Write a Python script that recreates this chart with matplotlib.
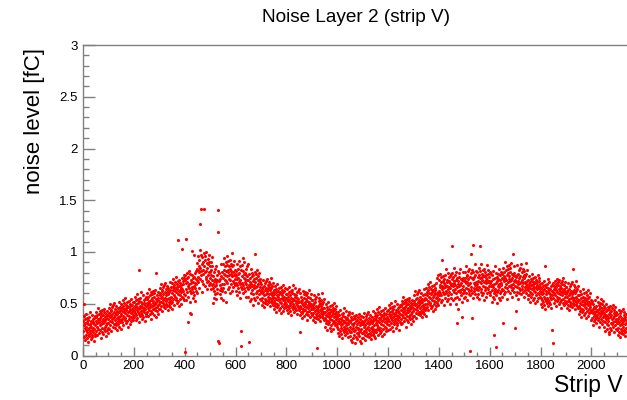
import numpy as np
import matplotlib
matplotlib.use("Agg")
import matplotlib.pyplot as plt
from matplotlib.ticker import MultipleLocator

plt.rcParams["font.family"] = ["Liberation Sans", "DejaVu Sans"]

# Noise per strip, in units of 0.01 fC, one entry per strip number
noise_strips_0000_0299 = [
    24,33,18,29,38,50,27,15,31,35, 20,28,40,25,17,32,23,36,26,13,
    30,34,21,27,37,19,29,24,42,22, 33,16,28,31,20,39,25,18,32,27,
    23,35,14,30,26,36,21,29,38,19,
    37,24,33,42,28,20,39,31,35,46, 26,34,22,40,32,29,43,25,36,17,
    41,30,38,23,33,44,27,35,21,39, 31,42,26,32,45,28,24,37,34,19,
    40,29,36,25,43,31,38,22,35,27,
    31,39,46,26,41,37,33,50,29,43, 38,24,44,35,47,32,40,28,49,36,
    30,42,37,51,27,39,34,45,31,41, 48,29,36,43,25,40,46,33,37,30,
    42,52,35,28,44,32,38,47,34,26,
    50,40,32,46,43,35,54,38,48,29, 42,51,37,45,34,56,41,36,49,44,
    31,46,52,39,33,48,42,28,47,53, 38,43,35,50,45,30,48,41,55,37,
    33,44,49,36,42,52,39,46,34,43,
    43,52,37,48,57,41,46,34,50,54, 39,47,59,44,36,51,42,55,45,32,
    83,53,40,46,56,38,48,43,61,41, 52,35,47,50,39,58,44,37,51,46,
    42,54,33,49,45,55,40,48,57,38,
    55,42,51,60,46,38,57,49,53,64, 44,52,40,58,50,47,61,43,54,35,
    59,48,56,41,51,62,45,53,39,57, 49,60,44,50,63,46,80,55,52,37,
    58,47,54,43,61,49,56,40,53,45,
]

noise_strips_0300_0599 = [
    50,58,65,45,60,56,52,69,48,62, 57,43,63,54,66,51,59,47,68,55,
    49,61,56,70,46,58,53,64,50,60, 67,48,55,62,44,59,65,52,56,49,
    61,71,54,47,63,51,57,66,53,45,
    70,60,52,66,63,55,74,58,68,49, 62,71,57,65,54,76,61,56,69,64,
    51,66,72,59,53,112,62,48,67,73, 58,63,55,70,65,50,68,61,75,57,
    103,64,69,56,62,72,59,75,54,78,
    3,78,58,73,113,64,70,54,75,80, 61,71,32,67,57,76,65,82,69,52,
    41,79,62,70,40,60,73,66,101,64, 78,56,71,75,61,97,67,58,76,70,
    65,80,53,74,69,82,62,73,84,60,
    89,71,83,96,76,65,92,81,86,102, 74,85,127,142,82,78,97,72,88,61,
    95,79,90,69,83,99,142,86,67,92, 81,96,74,82,100,76,71,89,85,64,
    93,78,88,72,97,81,90,68,86,75,
    70,81,90,64,83,78,73,95,68,86, 69,51,77,65,81,62,72,56,84,67,
    59,74,68,86,55,71,64,78,60,73, 82,141,119,14,12,72,80,63,68,59,
    74,88,65,56,77,62,69,81,64,54,
    88,75,65,83,79,69,94,73,86,61, 78,90,72,82,52,96,77,70,87,81,
    64,83,91,74,66,86,78,60,84,92, 73,79,69,88,82,62,86,77,99,72,
    66,81,87,70,78,91,74,83,68,79,
]

noise_strips_0600_0899 = [
    70,82,62,77,88,68,74,58,79,84, 65,75,91,71,61,80,69,86,73,56,
    9,83,66,24,87,64,77,70,94,68, 82,60,75,79,65,90,71,62,80,74,
    69,84,57,78,73,86,66,77,88,64,
    73,57,68,79,13,53,75,66,71,84, 60,69,55,77,67,63,80,59,72,49,
    78,65,74,56,68,81,98,71,54,75, 66,79,60,67,83,62,57,73,69,51,
    77,63,72,59,80,66,74,55,71,61,
    54,62,69,49,64,60,56,73,52,66, 61,47,67,58,70,55,63,51,72,59,
    53,65,60,74,50,62,57,68,54,64, 71,52,59,66,48,63,69,56,60,53,
    65,75,58,51,67,55,61,70,57,49,
    63,53,45,59,56,48,67,51,61,42, 55,64,50,58,47,69,54,49,62,57,
    44,59,65,52,46,61,55,41,60,66, 51,56,48,63,58,43,61,54,68,50,
    46,57,62,49,55,65,52,59,47,56,
    50,59,44,55,64,48,53,41,57,61, 46,54,66,51,43,58,49,62,52,39,
    56,60,47,53,63,45,55,50,68,48, 59,42,54,57,46,65,51,44,58,53,
    49,61,40,56,52,62,47,55,64,45,
    44,52,39,23,48,60,42,53,46,57, 36,51,54,41,45,62,49,43,59,48,
    56,38,52,44,61,50,40,55,47,58, 34,53,42,60,46,49,57,39,51,43,
    63,52,48,56,37,45,59,50,41,54,
]

noise_strips_0900_1199 = [
    39,47,54,34,49,45,41,58,37,51, 46,32,52,43,55,40,48,36,57,44,
    38,7,45,59,35,47,42,53,39,49, 56,37,44,51,33,48,54,41,45,38,
    50,60,43,36,52,40,46,55,42,34,
    46,36,28,42,39,31,50,34,44,25, 38,47,33,41,30,52,37,32,45,40,
    27,42,48,35,29,44,38,24,43,49, 34,39,31,46,41,26,44,37,51,33,
    29,40,45,32,38,48,35,42,30,39,
    28,37,22,33,42,26,31,19,35,39, 24,32,44,29,21,36,27,40,30,17,
    34,38,25,31,41,23,33,28,46,26, 37,20,32,35,24,43,29,22,36,31,
    27,39,18,34,30,40,25,33,42,23,
    32,19,28,37,23,15,34,26,30,41, 13,29,17,35,27,24,38,20,31,12,
    36,25,33,18,28,39,22,30,16,34, 26,37,21,27,40,23,19,32,29,14,
    35,24,31,12,38,26,33,17,30,22,
    22,30,37,17,32,28,24,41,20,34, 29,15,35,26,38,23,31,19,40,27,
    21,33,28,42,18,30,25,36,22,32, 39,20,27,34,16,31,37,24,28,21,
    33,43,26,19,35,23,29,38,25,17,
    41,31,23,37,34,26,45,29,39,20, 33,42,28,36,25,47,32,27,40,35,
    22,37,43,30,24,39,33,19,38,44, 29,34,26,41,36,21,39,32,46,28,
    24,35,40,27,33,43,30,37,25,34,
]

noise_strips_1200_1499 = [
    35,44,29,40,49,33,38,26,42,46, 31,39,51,36,28,43,34,47,37,24,
    41,45,32,38,48,30,40,35,53,33, 44,27,39,42,31,50,36,29,43,38,
    34,46,25,41,37,47,32,40,49,30,
    48,35,44,53,39,31,50,42,46,57, 37,45,33,51,43,40,54,36,47,28,
    52,41,49,34,44,55,38,46,32,50, 42,53,37,43,56,39,35,48,45,30,
    51,40,47,36,54,42,49,33,46,38,
    43,51,58,38,53,49,45,62,41,55, 50,36,56,47,59,44,52,40,61,48,
    42,54,49,63,39,51,46,57,43,53, 60,41,48,55,37,52,58,45,49,42,
    54,64,47,40,56,44,50,59,46,38,
    65,55,47,61,58,50,69,53,63,44, 57,66,52,60,49,71,56,51,64,59,
    46,61,67,54,48,63,57,43,62,68, 53,58,50,65,60,45,63,56,70,52,
    48,59,75,51,57,78,54,61,49,58,
    62,73,55,68,79,60,66,52,71,76, 58,67,92,64,54,72,61,77,65,49,
    70,74,59,66,78,56,68,62,84,60, 73,53,67,71,58,80,64,55,72,66,
    61,76,50,70,65,77,59,68,79,56,
    74,106,69,80,63,54,76,67,72,85, 61,70,56,78,68,64,81,60,73,50,
    31,66,75,57,69,45,62,72,55,76, 67,80,61,68,84,63,58,74,70,52,
    37,64,73,60,81,67,75,56,72,62,
]

noise_strips_1500_1799 = [
    63,72,81,57,75,70,65,86,60,77, 71,54,78,68,82,64,74,59,84,69,
    62,76,70,4,58,98,66,80,63,75, 83,60,36,107,56,74,81,65,70,62,
    76,88,68,59,78,64,71,82,66,57,
    81,69,59,76,72,63,85,66,78,55, 71,82,106,75,61,88,70,64,79,73,
    58,76,83,67,60,78,71,54,77,84, 66,72,63,81,75,57,78,70,87,65,
    60,73,79,64,71,83,67,76,61,72,
    58,81,70,61,79,67,72,52,78,63, 68,74,57,66,82,60,20,69,55,75,
    62,86,64,70,58,80,8,61,76,72, 51,67,79,63,74,56,66,84,69,60,
    78,73,54,68,62,81,70,57,75,64,
    79,63,74,85,31,59,81,72,77,90, 66,75,61,83,73,69,86,65,78,55,
    84,71,80,62,74,87,67,77,60,81, 72,85,66,73,89,68,63,79,75,57,
    98,69,78,65,86,72,80,61,77,67,
    27,73,43,58,76,71,66,87,61,78, 72,55,79,69,83,65,75,60,85,70,
    63,77,71,88,59,73,67,81,64,76, 84,61,70,78,57,75,82,66,71,63,
    77,89,69,60,79,65,72,83,67,58,
    73,63,55,69,66,58,77,61,71,52, 65,74,60,68,57,79,64,59,72,67,
    54,69,75,62,56,71,65,51,70,76, 61,66,58,73,68,53,71,64,78,60,
    56,67,72,59,65,75,62,69,57,66,
]

noise_strips_1800_2139 = [
    56,65,50,61,70,54,59,47,63,67, 52,60,72,57,49,64,55,68,86,45,
    62,66,53,59,69,51,61,56,74,54, 65,48,60,63,52,71,57,50,64,59,
    55,67,46,62,58,68,25,61,70,12,
    56,64,51,67,60,72,54,65,58,69, 48,63,66,53,57,74,61,55,71,60,
    68,50,64,56,73,62,52,67,59,70, 46,65,54,72,58,61,69,51,63,55,
    75,64,60,68,49,57,71,62,53,66,
    51,59,66,46,61,57,53,70,49,63, 58,44,64,55,67,52,60,48,69,56,
    50,62,57,71,47,59,54,84,51,61, 68,49,56,63,45,60,66,53,57,50,
    62,72,55,48,64,52,58,67,54,46,
    58,48,40,54,51,43,62,46,56,37, 50,59,45,53,42,64,49,44,57,52,
    39,54,60,47,41,56,50,36,55,61, 46,51,43,58,53,38,56,49,63,45,
    41,52,57,44,50,60,47,54,42,51,
    34,53,44,36,51,41,45,29,50,38, 42,47,33,40,54,35,46,43,31,48,
    37,57,39,44,34,52,42,36,49,45, 28,41,51,38,47,32,40,55,43,35,
    50,46,30,42,37,53,44,33,48,39,
    41,28,37,46,32,24,43,35,39,50, 30,38,26,44,36,33,47,29,40,21,
    45,23,42,27,37,48,31,39,25,43, 35,46,30,36,49,32,28,41,38,23,
    44,33,40,29,47,35,42,26,39,31,
    25,33,40,20,35,31,27,44,23,37, 32,18,38,29,41,26,34,22,43,30,
    24,36,31,45,21,33,28,39,25,35, 42,23,30,37,19,34,40,27,31,24,
]

x_ticks = [0, 200, 400, 600, 800, 1000, 1200, 1400, 1600, 1800, 2000]
y_ticks = [0, 0.5, 1, 1.5, 2, 2.5, 3]
y_tick_labels = ["0", "0.5", "1", "1.5", "2", "2.5", "3"]

noise = np.concatenate([
    noise_strips_0000_0299, noise_strips_0300_0599, noise_strips_0600_0899,
    noise_strips_0900_1199, noise_strips_1200_1499, noise_strips_1500_1799,
    noise_strips_1800_2139,
]) / 100.0
strips = np.arange(len(noise))

W, H = 627, 400
fig = plt.figure(figsize=(W / 100, H / 100), dpi=100)
ax = fig.add_axes([83 / W, (H - 355.5) / H, 1 - 83 / W, (355.5 - 45) / H])

ax.scatter(strips, noise, s=5, c="#ff0000", marker="o", linewidths=0, zorder=3)

ax.set_xlim(0, 2140)
ax.set_ylim(0, 3)

frame_color = "#808080"
for side in ("left", "bottom", "top"):
    ax.spines[side].set_color(frame_color)
    ax.spines[side].set_linewidth(1.0)
ax.spines["right"].set_visible(False)

ax.set_xticks(x_ticks)
ax.set_xticklabels([str(t) for t in x_ticks])
ax.set_yticks(y_ticks)
ax.set_yticklabels(y_tick_labels)
ax.xaxis.set_minor_locator(MultipleLocator(50))
ax.yaxis.set_minor_locator(MultipleLocator(0.1))

ax.tick_params(axis="x", which="major", direction="in", length=6.5, width=1,
               color=frame_color, labelsize=9.5, pad=3, top=False)
ax.tick_params(axis="x", which="minor", direction="in", length=3.2, width=1,
               color=frame_color, top=False)
ax.tick_params(axis="y", which="major", direction="in", length=8.5, width=1,
               color=frame_color, labelsize=9.5, pad=4, right=False)
ax.tick_params(axis="y", which="minor", direction="in", length=4.3, width=1,
               color=frame_color, right=False)

fig.text(356 / W, 1 - 18 / H, "Noise Layer 2 (strip V)", ha="center",
         va="center", fontsize=13.7)
fig.text(35 / W, 1 - 48 / H, "noise level [fC]", rotation=90, ha="center",
         va="top", fontsize=16)
fig.text(623 / W, 8 / H, "Strip V", ha="right", va="baseline", fontsize=16.5)

fig.savefig("out.png", dpi=100)
